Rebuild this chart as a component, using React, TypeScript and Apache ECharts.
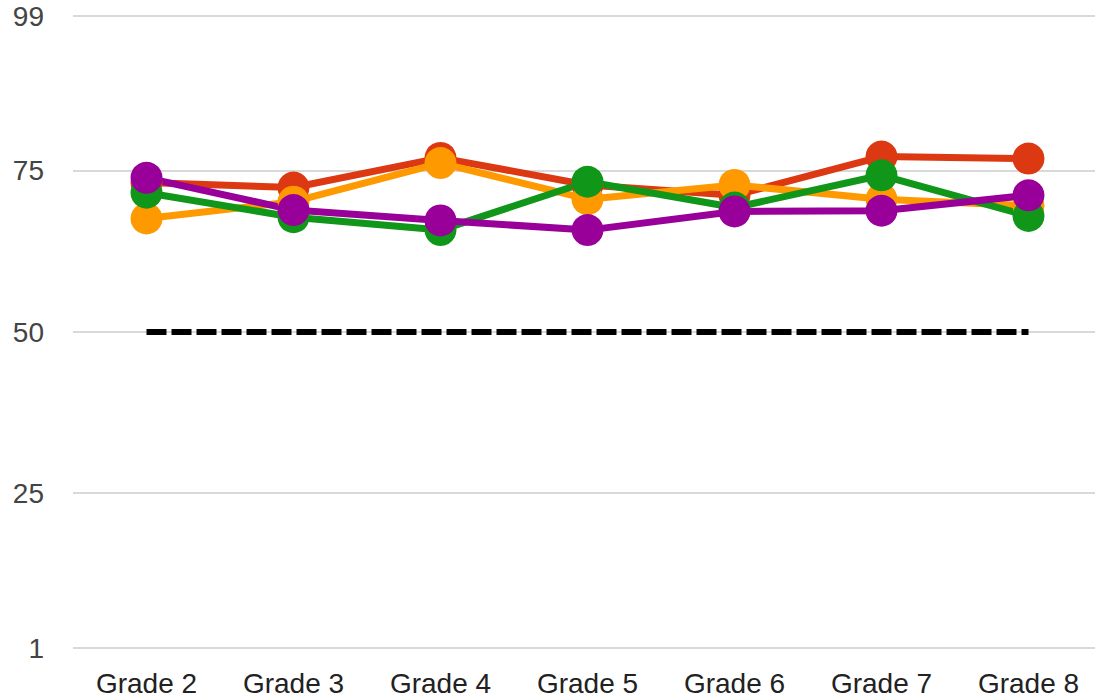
import React, { useEffect, useRef } from "react";
import * as echarts from "echarts";

const categories = ["Grade 2", "Grade 3", "Grade 4", "Grade 5", "Grade 6", "Grade 7", "Grade 8"];
const yTicks = [1, 25, 50, 75, 99];
const redValues = [73.2, 72.4, 77.0, 72.8, 71.2, 77.2, 76.9];
const orangeValues = [67.6, 70.2, 76.2, 70.6, 72.8, 70.6, 69.6];
const greenValues = [71.6, 67.8, 65.8, 73.3, 69.3, 74.3, 68.0];
const purpleValues = [73.9, 68.9, 67.3, 65.8, 68.7, 68.8, 71.2];
const benchmarkValues = [50, 50, 50, 50, 50, 50, 50];

const seriesDefs = [
  { name: "Red", color: "#dc3912", data: redValues },
  { name: "Orange", color: "#ff9900", data: orangeValues },
  { name: "Green", color: "#109618", data: greenValues },
  { name: "Purple", color: "#990099", data: purpleValues },
];

export default function App() {
  const ref = useRef<HTMLDivElement>(null);
  useEffect(() => {
    if (!ref.current) return;
    const chart = echarts.init(ref.current, undefined, { renderer: "svg" });
    const font = "'Liberation Sans', Arial, sans-serif";
    chart.setOption({
      animation: false,
      backgroundColor: "#ffffff",
      grid: { left: 73, top: 16, width: 1029, height: 632, outerBoundsMode: "none", containLabel: false },
      xAxis: {
        type: "category",
        data: categories,
        boundaryGap: true,
        axisLine: { show: false },
        axisTick: { show: false },
        axisLabel: { color: "#222", fontSize: 28, fontFamily: font, margin: 21 },
      },
      yAxis: {
        type: "value",
        min: 1,
        max: 99,
        axisLine: { show: false },
        axisTick: { show: false, customValues: yTicks },
        axisLabel: { customValues: yTicks, color: "#444", fontSize: 28, fontFamily: font, margin: 29 },
        splitLine: { show: true, lineStyle: { color: "#cccccc", width: 1.5 } },
      },
      series: [
        {
          name: "Benchmark",
          type: "line",
          data: benchmarkValues,
          symbol: "none",
          lineStyle: { color: "#000", width: 6, type: [20, 5] },
        },
        ...seriesDefs.map((s) => ({
          name: s.name,
          type: "line",
          data: s.data,
          symbol: "circle",
          symbolSize: 32,
          itemStyle: { color: s.color },
          lineStyle: { color: s.color, width: 7 },
        })),
      ],
    });
    return () => chart.dispose();
  }, []);
  return (
    <div
      ref={ref}
      style={{ position: "fixed", left: 0, top: 0, width: 1095, height: 698 }}
    />
  );
}
